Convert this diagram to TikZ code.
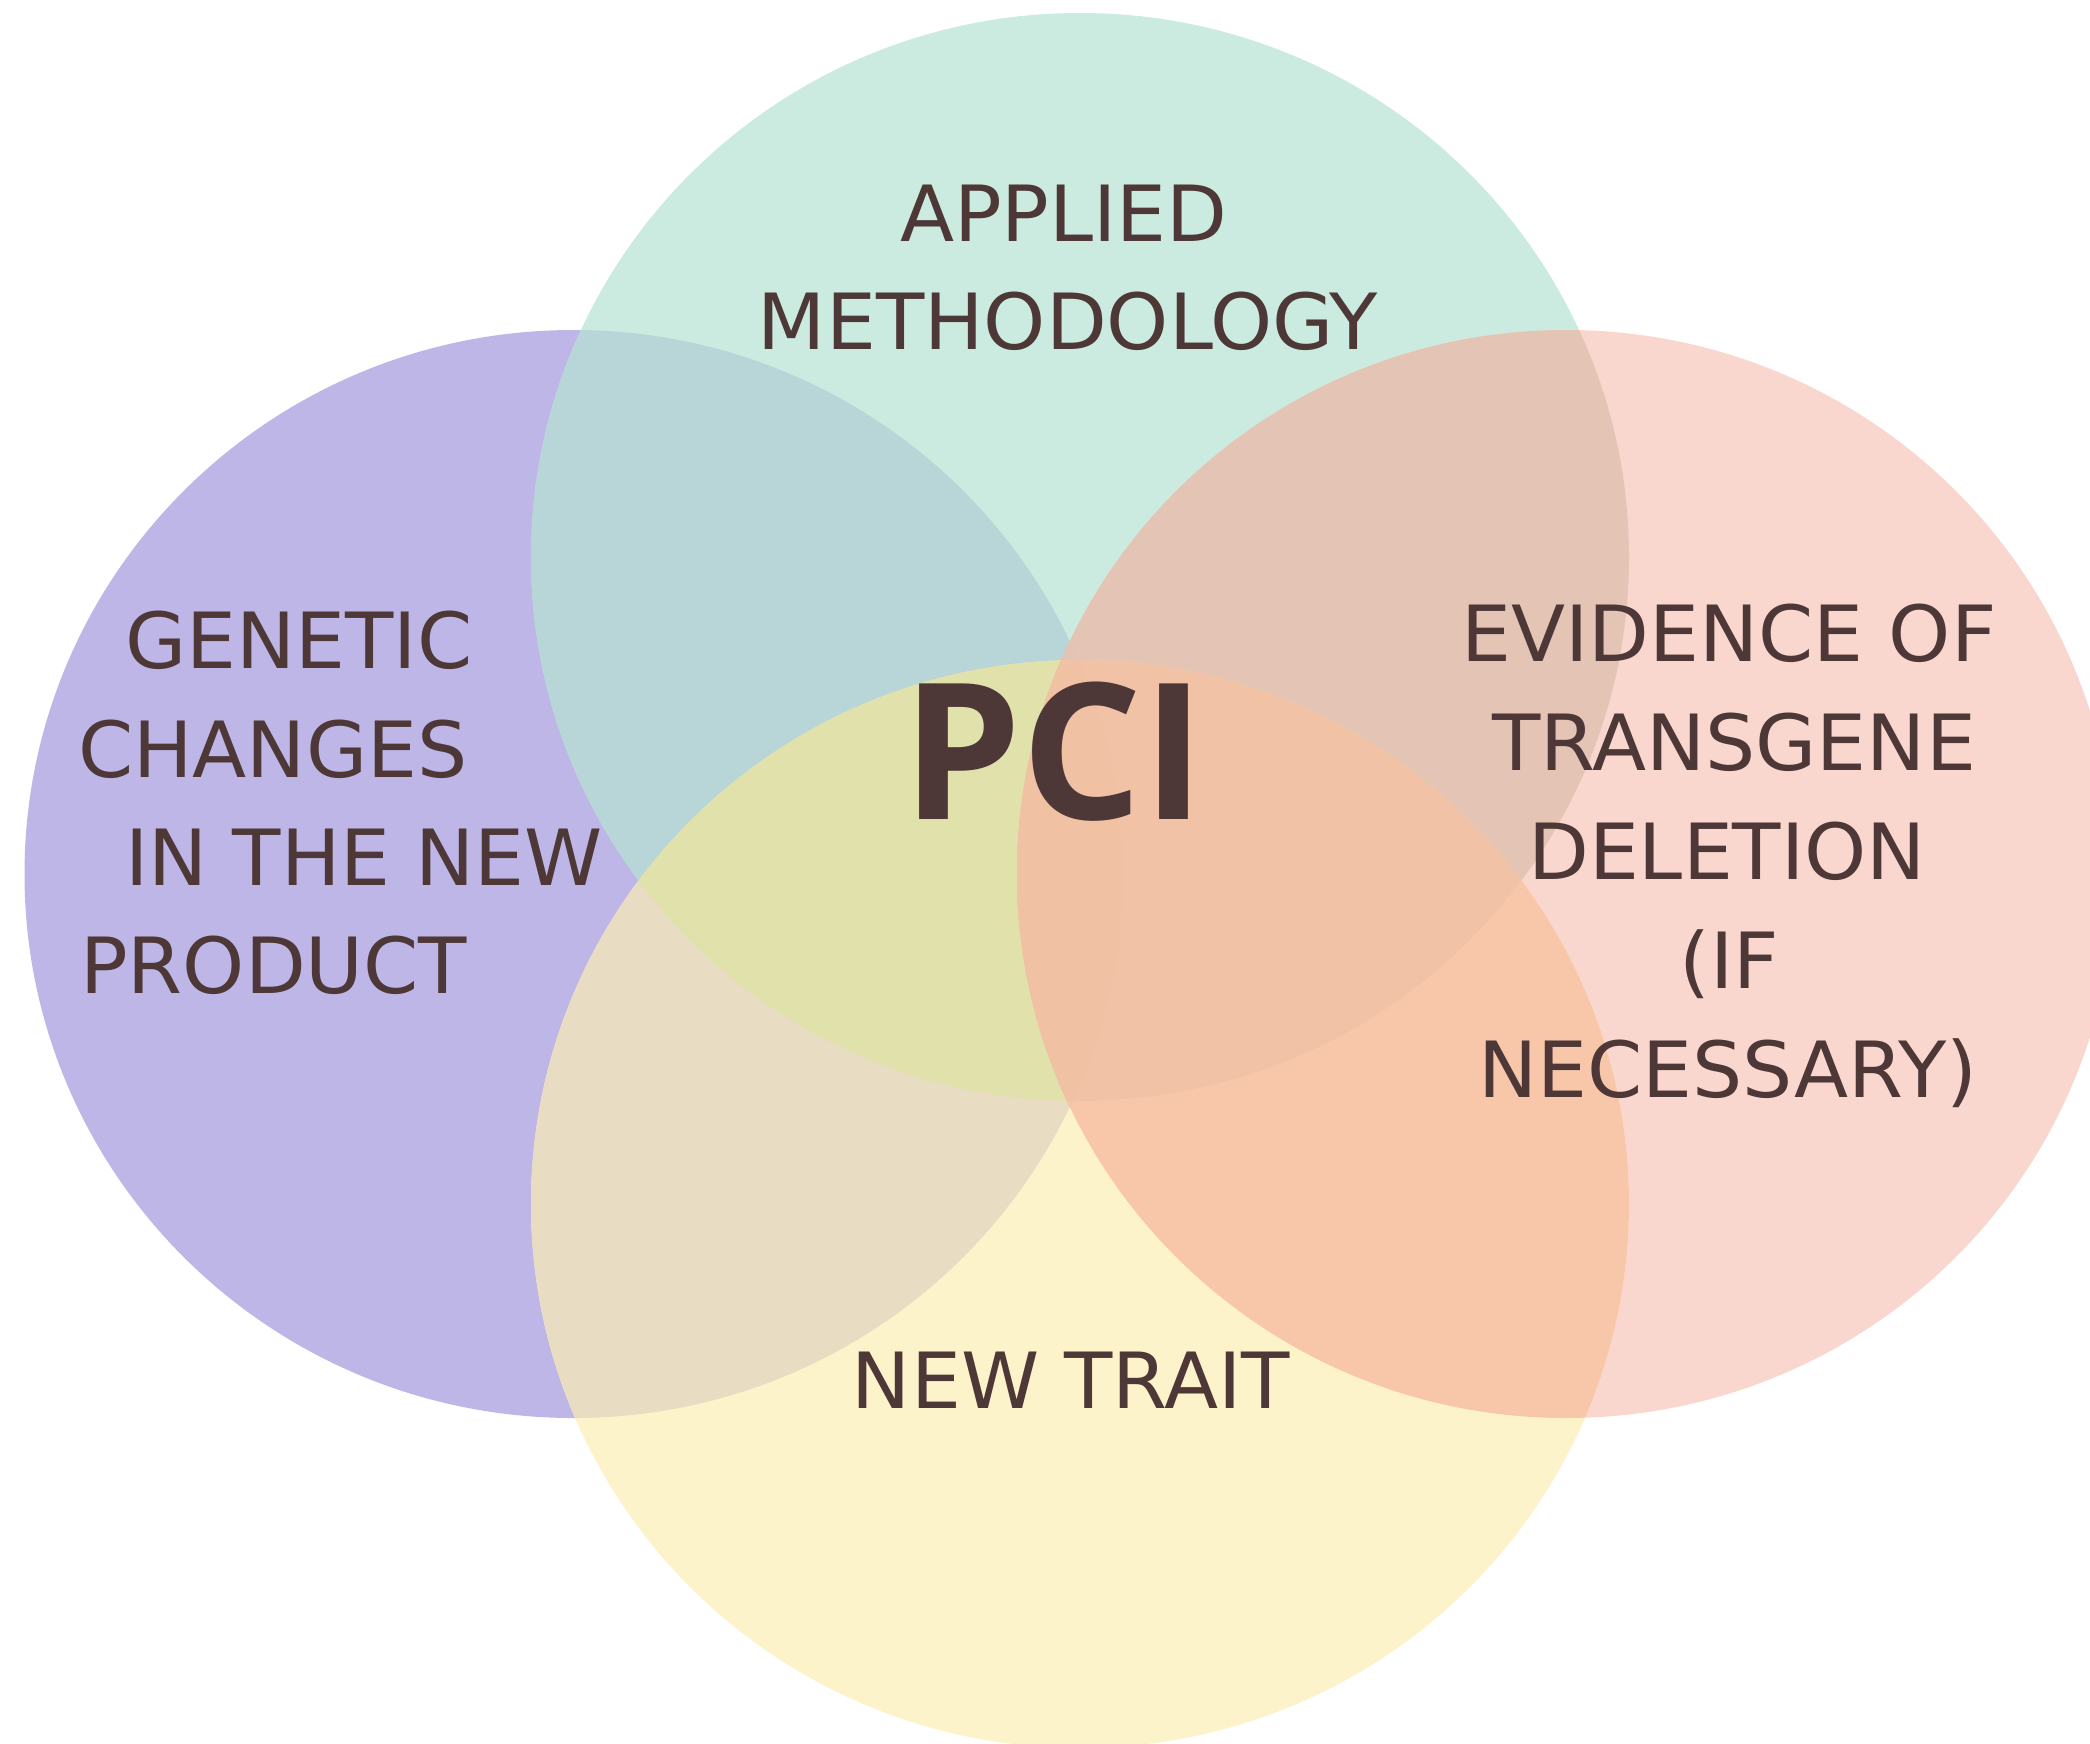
\documentclass[tikz,border=0pt]{standalone}
\usepackage{fontspec}
\newfontfamily\labelfont[FakeStretch=1.02]{DejaVu Sans}
\newfontfamily\pcifont{Open Sans}

% region colours of the four-set diagram
\definecolor{ink}{HTML}{4D3737}
\definecolor{cP}{HTML}{BEB6E6}
\definecolor{cG}{HTML}{CBEBE0}
\definecolor{cK}{HTML}{F9D7CE}
\definecolor{cY}{HTML}{FCF3CB}
\definecolor{cPG}{HTML}{B8D5D8}
\definecolor{cPY}{HTML}{E8DDC3}
\definecolor{cGK}{HTML}{E4C5B5}
\definecolor{cYK}{HTML}{F8C7AA}
\definecolor{cPK}{HTML}{F0C1A3}
\definecolor{cGY}{HTML}{E1E1AC}
\definecolor{cPGY}{HTML}{E1E1AC}
\definecolor{cGYK}{HTML}{F1C2A5}
\definecolor{cPGK}{HTML}{E2C4B5}
\definecolor{cPYK}{HTML}{F5C5A8}
\definecolor{cPGYK}{HTML}{F0C1A3}

% the four sets
\def\vennP{(573.5,874) ellipse [x radius=549pt, y radius=544pt]}
\def\vennG{(1080,557) ellipse [x radius=549pt, y radius=544pt]}
\def\vennK{(1566,874) ellipse [x radius=549pt, y radius=544pt]}
\def\vennY{(1080,1204) ellipse [x radius=549pt, y radius=544pt]}

\begin{document}
\begin{tikzpicture}[x=1pt, y=-1pt,
  lbl/.style={text=ink, inner sep=0pt,
    font=\labelfont\fontsize{77.5}{108}\selectfont},
  lineL/.style={lbl, anchor=base west},
  lineC/.style={lbl, anchor=base}]

\useasboundingbox (0,0) rectangle (2090,1743);
\fill[white] (0,0) rectangle (2090,1743);

% single sets
\fill[cP] \vennP;
\fill[cG] \vennG;
\fill[cK] \vennK;
\fill[cY] \vennY;

% pairwise overlaps
\begin{scope}\clip \vennP; \fill[cPG] \vennG; \end{scope}
\begin{scope}\clip \vennP; \fill[cPY] \vennY; \end{scope}
\begin{scope}\clip \vennG; \fill[cGK] \vennK; \end{scope}
\begin{scope}\clip \vennY; \fill[cYK] \vennK; \end{scope}
\begin{scope}\clip \vennP; \fill[cPK] \vennK; \end{scope}
\begin{scope}\clip \vennG; \fill[cGY] \vennY; \end{scope}

% triple overlaps
\begin{scope}\clip \vennP; \clip \vennG; \fill[cPGY] \vennY; \end{scope}
\begin{scope}\clip \vennG; \clip \vennY; \fill[cGYK] \vennK; \end{scope}
\begin{scope}\clip \vennP; \clip \vennG; \fill[cPGK] \vennK; \end{scope}
\begin{scope}\clip \vennP; \clip \vennY; \fill[cPYK] \vennK; \end{scope}

% centre
\begin{scope}\clip \vennP; \clip \vennG; \clip \vennY; \fill[cPGYK] \vennK; \end{scope}

% labels
\node[lineL] (gen1) at (125,668) {GENETIC};
\node[lineL] (gen2) at (78,777) {CHANGES};
\node[lineL] (gen3) at (125,885) {IN THE NEW};
\node[lineL] (gen4) at (80,993) {PRODUCT};

\node[lineC] (app1) at (1064,241) {APPLIED};
\node[lineC] (app2) at (1068,349) {METHODOLOGY};

\node[lineC] (evi1) at (1729,661) {EVIDENCE OF};
\node[lineC] (evi2) at (1734,770) {TRANSGENE};
\node[lineC] (evi3) at (1727,879) {DELETION};
\node[lineC] (evi4) at (1729,988) {(IF};
\node[lineC] (evi5) at (1728,1097) {NECESSARY)};

\node[lineC] (trait) at (1071,1408) {NEW TRAIT};

\node[lineC, font=\pcifont\bfseries\fontsize{190}{200}\selectfont] (pci) at (1054,819) {PCI};
\end{tikzpicture}
\end{document}
